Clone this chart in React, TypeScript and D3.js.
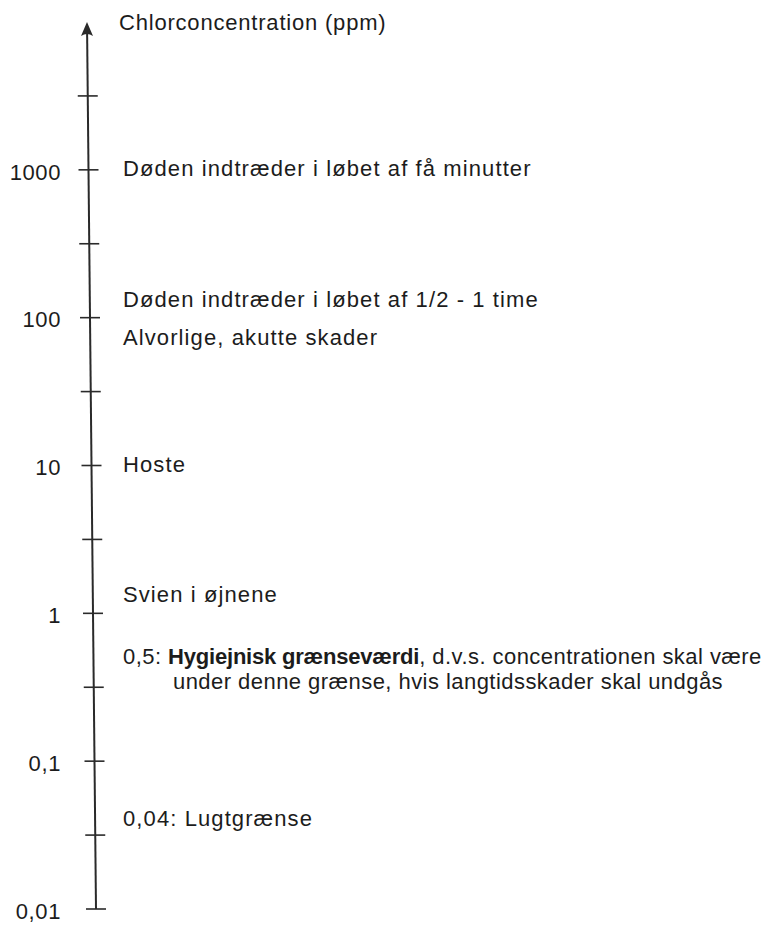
import React from "react";
import * as d3 from "d3";

// ---- data ----
const axisTitle = "Chlorconcentration (ppm)";
const majorTickValues = [1000, 100, 10, 1, 0.1, 0.01];
const majorTickLabels = ["1000", "100", "10", "1", "0,1", "0,01"];
const minorTickValues = [3162, 316.2, 31.62, 3.162, 0.3162, 0.03162];
const axisDomain = [0.01, 10000];

const annotationValues = [1000, 130, 72, 10, 1.3, 0.5, 0.04];
const annotationTexts: { text: string; bold?: boolean }[][][] = [
  [[{ text: "Døden indtræder i løbet af få minutter" }]],
  [[{ text: "Døden indtræder i løbet af 1/2 - 1 time" }]],
  [[{ text: "Alvorlige, akutte skader" }]],
  [[{ text: "Hoste" }]],
  [[{ text: "Svien i øjnene" }]],
  [
    [
      { text: "0,5: " },
      { text: "Hygiejnisk grænseværdi", bold: true },
      { text: ", d.v.s. concentrationen skal være" },
    ],
    [{ text: "under denne grænse, hvis langtidsskader skal undgås" }],
  ],
  [[{ text: "0,04: Lugtgrænse" }]],
];

// ---- layout ----
const W = 779;
const H = 925;
const yTop = 22;
const yBottom = 909;
const xTop = 87;
const xBottom = 96;
const FONT = "'Liberation Sans', Arial, sans-serif";
const FS = 22;
const LS = 0.6;
const INK = "#1c1c1c";

export default function App() {
  const y = d3.scaleLog().domain(axisDomain).range([yBottom, yTop]);
  const xAt = d3.scaleLinear().domain([yTop, yBottom]).range([xTop, xBottom]);
  const tickHalf = 10;

  const arrowPath = (() => {
    const tx = xAt(yTop);
    const ty = yTop;
    const p = d3.path();
    p.moveTo(tx, ty);
    p.lineTo(tx + 6, ty + 14);
    p.quadraticCurveTo(tx, ty + 10, tx - 6, ty + 14);
    p.closePath();
    return p.toString();
  })();

  return (
    <svg
      width={W}
      height={H}
      style={{ position: "absolute", left: 0, top: 0, background: "#fff" }}
      fontFamily={FONT}
    >
      <rect width={W} height={H} fill="#fff" />
      {/* axis line */}
      <line
        x1={xAt(yTop + 6)}
        y1={yTop + 6}
        x2={xAt(yBottom)}
        y2={yBottom}
        stroke="#2a2a2a"
        strokeWidth={2}
      />
      <path d={arrowPath} fill="#2a2a2a" />
      {/* ticks */}
      {majorTickValues.concat(minorTickValues).map((v, i) => {
        const yy = y(v);
        const xx = xAt(yy);
        return (
          <line
            key={"t" + i}
            x1={xx - tickHalf}
            x2={xx + tickHalf}
            y1={yy}
            y2={yy}
            stroke="#2a2a2a"
            strokeWidth={1.6}
          />
        );
      })}
      {/* tick labels */}
      {majorTickValues.map((v, i) => (
        <text
          key={"l" + i}
          x={61}
          y={y(v) + 4}
          textAnchor="end"
          dominantBaseline="middle"
          fontSize={FS}
          letterSpacing={LS}
          fill={INK}
        >
          {majorTickLabels[i]}
        </text>
      ))}
      {/* title */}
      <text
        x={119}
        y={yTop + 2}
        dominantBaseline="middle"
        fontSize={FS}
        letterSpacing={LS + 0.2}
        fill={INK}
      >
        {axisTitle}
      </text>
      {/* annotations */}
      {annotationValues.map((v, i) => {
        const lines = annotationTexts[i];
        return lines.map((segs, j) => (
          <text
            key={"a" + i + "-" + j}
            x={j === 0 ? 123 : 173}
            y={y(v) + j * 25}
            dominantBaseline="middle"
            fontSize={FS}
            letterSpacing={lines.length > 1 ? 0.45 : LS + 0.5}
            fill={INK}
          >
            {segs.map((s, k) => (
              <tspan
                key={k}
                fontWeight={s.bold ? "bold" : "normal"}
                letterSpacing={s.bold ? -0.2 : undefined}
              >
                {s.text}
              </tspan>
            ))}
          </text>
        ));
      })}
    </svg>
  );
}
